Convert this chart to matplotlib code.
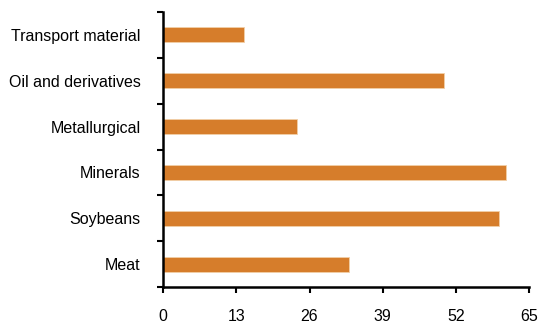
import matplotlib
matplotlib.use("Agg")
import matplotlib.pyplot as plt
import numpy as np

categories = ["Meat", "Soybeans", "Minerals", "Metallurgical", "Oil and derivatives", "Transport material"]
values = [33.0, 59.6, 60.8, 23.8, 49.8, 14.4]
x_ticks = [0, 13, 26, 39, 52, 65]

plt.rcParams["font.family"] = ["Liberation Sans", "DejaVu Sans"]

fig = plt.figure(figsize=(5.4, 3.23), dpi=100)
ax = fig.add_axes([0.302, 0.1115, 0.678, 0.8513])

pos = np.arange(len(categories))
ax.barh(pos, values, height=0.33, color="#D67D2B", edgecolor="#F2CFA8", linewidth=0.6)

ax.set_xlim(0, 65)
ax.set_ylim(-0.5, len(categories) - 0.5)
ax.set_xticks(x_ticks)
ax.set_xticklabels([str(t) for t in x_ticks], fontsize=11.5)

ax.set_yticks(pos)
ax.set_yticklabels(categories, fontsize=11.5)
ax.set_yticks(np.arange(len(categories) + 1) - 0.5, minor=True)
ax.tick_params(axis="y", which="major", length=0, pad=16)
ax.tick_params(axis="y", which="minor", length=4, width=1.5, direction="out")
ax.tick_params(axis="x", which="major", length=4, width=1.5, direction="out", pad=12)

for side in ("top", "right"):
    ax.spines[side].set_visible(False)
for side in ("left", "bottom"):
    ax.spines[side].set_linewidth(1.8)
    ax.spines[side].set_color("black")

fig.savefig("out.png", dpi=100)
